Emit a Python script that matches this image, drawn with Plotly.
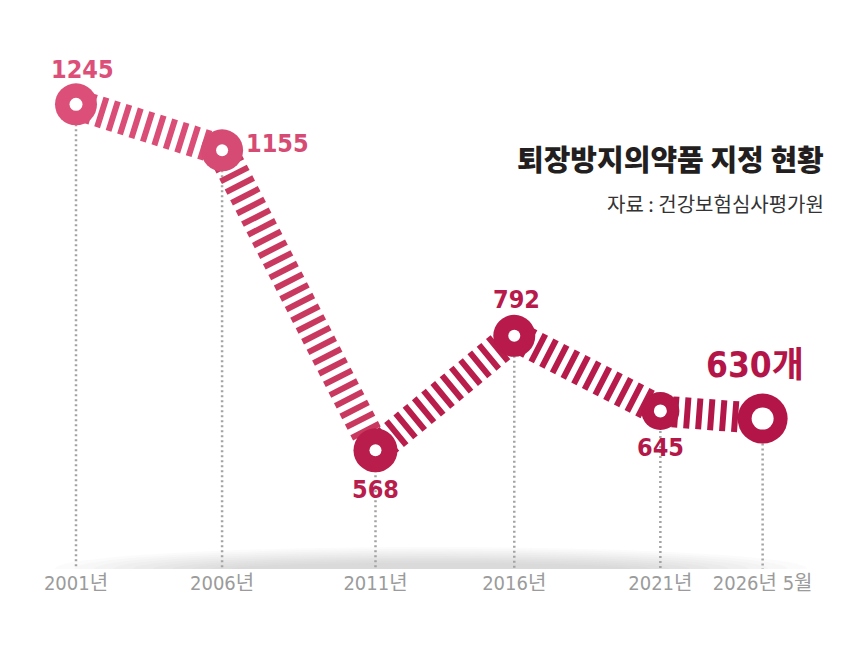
import plotly.graph_objects as go

# data
periods = ["2001년", "2006년", "2011년", "2016년", "2021년", "2026년 5월"]
x_idx = [0, 1, 2.05, 3, 4, 4.7]
counts = [1245, 1155, 568, 792, 645, 630]
labels = ["1245", "1155", "568", "792", "645", "630개"]

title = "퇴장방지의약품 지정 현황"
source = "자료 : 건강보험심사평가원"

# styling
NUM_FONT = "DejaVu Sans Condensed, Noto Sans CJK KR"
KR_FONT = "Noto Sans CJK KR"
pt_colors = ["#dc4f78", "#d64b73", "#b81d4c", "#b81a4c", "#b31849", "#b31548"]
seg_colors = ["#d94d76", "#c9385f", "#b81d4c", "#b71b4b", "#b3174a"]
outer_size = [42, 42, 44, 42, 38, 50]
inner_size = [13, 12, 12, 12, 13, 22]
lbl_shift = [(6, 35), (55, 7), (0, -39), (2, 36), (0, -37), (-8, 54)]
lbl_size = [25, 25, 25, 25, 25, 35]

y_lo, y_hi = 335.7, 1369

fig = go.Figure()

# dotted drop lines
dx, dy = [], []
for xv, v in zip(x_idx, counts):
    dx += [xv, xv, None]
    dy += [v, y_lo, None]
fig.add_trace(go.Scatter(x=dx, y=dy, mode="lines", hoverinfo="skip",
                         line=dict(color="#a3a3a3", width=2.5, dash="2px,3px")))

# striped (railroad) line, one trace per segment
for i in range(len(counts) - 1):
    fig.add_trace(go.Scatter(
        x=x_idx[i:i + 2], y=counts[i:i + 2], mode="lines", hoverinfo="skip",
        line=dict(color=seg_colors[i], width=31, dash="6px,6px")))

# donut markers
fig.add_trace(go.Scatter(x=x_idx, y=counts, mode="markers",
                         marker=dict(size=outer_size, color=pt_colors, opacity=1,
                                     line=dict(width=0))))
fig.add_trace(go.Scatter(x=x_idx, y=counts, mode="markers",
                         marker=dict(size=inner_size, color="white", opacity=1,
                                     line=dict(width=0))))

for xv, v, t, c, (sx, sy), fs in zip(x_idx, counts, labels, pt_colors, lbl_shift, lbl_size):
    fig.add_annotation(x=xv, y=v, text=t, showarrow=False, xshift=sx, yshift=sy,
                       font=dict(family=NUM_FONT, size=fs, color=c, weight="bold"))

fig.add_annotation(xref="paper", yref="paper", x=0.994, y=0.778, text=title,
                   showarrow=False, xanchor="right", yanchor="middle",
                   font=dict(family=KR_FONT, size=29, color="#231f20", weight=900))
fig.add_annotation(xref="paper", yref="paper", x=0.994, y=0.693, text=source,
                   showarrow=False, xanchor="right", yanchor="middle",
                   font=dict(family=KR_FONT, size=20, color="#333333"))

# soft shadow over the base line
n = 10
for k in range(n):
    f = k / (n - 1)
    half_w = 0.47 - 0.22 * f
    h = 22 - 16 * f
    fig.add_shape(type="circle", xref="paper", yref="y", layer="below",
                  x0=0.5 - half_w, x1=0.5 + half_w,
                  y0=y_lo - h / 0.511, y1=y_lo + h / 0.511,
                  fillcolor="#8a8a8a", opacity=0.035, line=dict(width=0))

fig.update_layout(
    width=860, height=657,
    margin=dict(l=23, r=37, t=33, b=96),
    paper_bgcolor="white", plot_bgcolor="white",
    showlegend=False,
    xaxis=dict(range=[-0.308, 5.168], tickvals=x_idx, ticktext=periods,
               showgrid=False, zeroline=False, showline=False, ticks="",
               ticklabelstandoff=0,
               tickfont=dict(family=NUM_FONT, size=20, color="#9b9b9b")),
    yaxis=dict(range=[y_lo, y_hi], visible=False, showgrid=False, zeroline=False),
)

fig.write_html("out.html")
